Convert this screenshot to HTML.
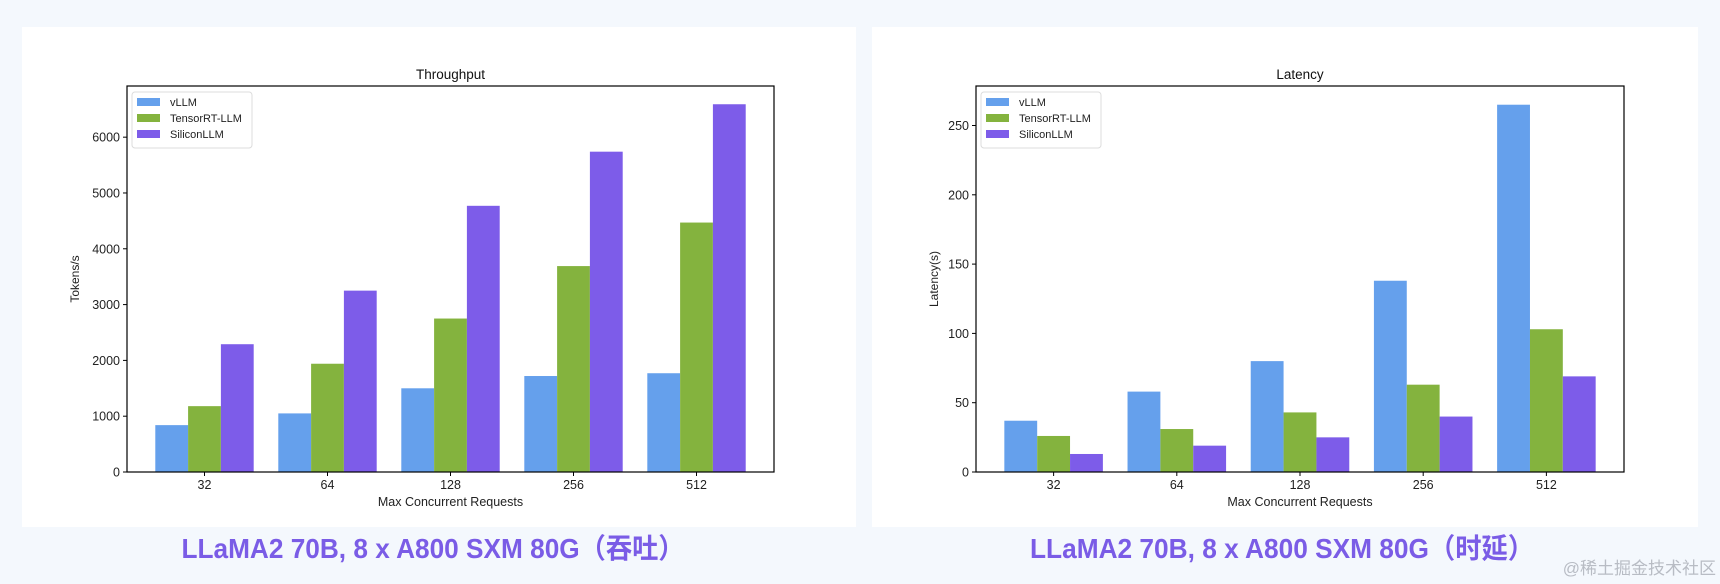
<!DOCTYPE html>
<html><head><meta charset="utf-8"><style>
html,body{margin:0;padding:0;background:#f4f8fd;}
svg{display:block;font-family:"Liberation Sans","DejaVu Sans",sans-serif;}
</style></head><body>
<svg id="root" width="1720" height="584" viewBox="0 0 1720 584" xmlns="http://www.w3.org/2000/svg">
<rect x="0" y="0" width="1720" height="584" fill="#f4f8fd"/>
<rect x="22" y="27" width="834" height="500" fill="#ffffff"/>
<rect x="872" y="27" width="826" height="500" fill="#ffffff"/>
<g id="left"></g>
<g id="right"></g>
<text x="433" y="558" text-anchor="middle" font-size="28" font-weight="bold" fill="#7a5ce6" textLength="503" lengthAdjust="spacingAndGlyphs" style="font-family:'Liberation Sans','Noto Sans CJK SC',sans-serif">LLaMA2 70B, 8 x A800 SXM 80G（吞吐）</text>
<text x="1282" y="558" text-anchor="middle" font-size="28" font-weight="bold" fill="#7a5ce6" textLength="504" lengthAdjust="spacingAndGlyphs" style="font-family:'Liberation Sans','Noto Sans CJK SC',sans-serif">LLaMA2 70B, 8 x A800 SXM 80G（时延）</text>
<text x="1716" y="574" text-anchor="end" font-size="17" fill="#b8bcc4" style="font-family:'Liberation Sans','Noto Sans CJK SC',sans-serif">@稀土掘金技术社区</text>
</svg>
<script>
const categories = ["32","64","128","256","512"];
const seriesNames = ["vLLM","TensorRT-LLM","SiliconLLM"];
const throughputVllm = [840,1050,1500,1720,1770];
const throughputTrt = [1180,1940,2750,3690,4470];
const throughputSilicon = [2290,3250,4770,5740,6590];
const throughputTicks = [0,1000,2000,3000,4000,5000,6000];
const latencyVllm = [37,58,80,138,265];
const latencyTrt = [26,31,43,63,103];
const latencySilicon = [13,19,25,40,69];
const latencyTicks = [0,50,100,150,200,250];
const colors = ["#65a0ec","#84b33e","#7d5ce9"];
const NS="http://www.w3.org/2000/svg";
function mk(tag,attrs,parent){const e=document.createElementNS(NS,tag);for(const k in attrs)e.setAttribute(k,attrs[k]);parent.appendChild(e);return e;}
function drawChart(g,cfg){
  const x0=cfg.x0,x1=cfg.x1,yTop=86,yBot=472;
  const n=categories.length, lo=-0.63, hi=n-1+0.63;
  const sx=v=>x0+(v-lo)/(hi-lo)*(x1-x0);
  const sy=v=>yBot-(v/cfg.ymax)*(yBot-yTop);
  const series=cfg.series;
  const bw=0.8/3;
  series.forEach((vals,si)=>{
    vals.forEach((v,ci)=>{
      const cx=ci+(si-1)*bw;
      const r=mk('rect',{x:sx(cx-bw/2),y:sy(v),width:sx(cx+bw/2)-sx(cx-bw/2),height:sy(0)-sy(v),fill:colors[si]},g);
      
      
    });
  });
  const frame=mk('rect',{x:x0,y:yTop,width:x1-x0,height:yBot-yTop,fill:'none',stroke:'#000','stroke-width':1.2},g);
  
  
  cfg.ticks.forEach(t=>{
    const y=sy(t);
    const tl=mk('line',{x1:x0-4,x2:x0,y1:y,y2:y,stroke:'#000'},g);
    
    
    const tx=mk('text',{x:x0-7,y:y+4.5,'text-anchor':'end','font-size':12.5,fill:'#222'},g);
    tx.textContent=t;
    
    
  });
  categories.forEach((c,ci)=>{
    const x=sx(ci);
    const tl=mk('line',{x1:x,x2:x,y1:yBot,y2:yBot+4,stroke:'#000'},g);
    
    
    const tx=mk('text',{x:x,y:489,'text-anchor':'middle','font-size':12.5,fill:'#222'},g);
    tx.textContent=c;
    
    
  });
  const title=mk('text',{x:(x0+x1)/2,y:79,'text-anchor':'middle','font-size':13.5,fill:'#111'},g);
  title.textContent=cfg.title;
  
  
  const xl=mk('text',{x:(x0+x1)/2,y:506,'text-anchor':'middle','font-size':12.5,fill:'#222'},g);
  xl.textContent='Max Concurrent Requests';
  
  
  const yl=mk('text',{x:0,y:0,'text-anchor':'middle','font-size':12,fill:'#222',transform:'translate('+cfg.ylx+',279) rotate(-90)'},g);
  yl.textContent=cfg.ylabel;
  
  
  const lx=x0+5;
  const lb=mk('rect',{x:lx,y:92,width:120,height:56,rx:3,fill:'#fff',stroke:'#dcdcdc'},g);
  
  
  seriesNames.forEach((s,si)=>{
    const y=102+si*16;
    const p=mk('rect',{x:lx+5,y:y-4,width:23,height:8,fill:colors[si]},g);
    
    
    const t=mk('text',{x:lx+38,y:y+4,'font-size':11,fill:'#222'},g);
    t.textContent=s;
    
    
  });
}
drawChart(document.getElementById('left'),{id:'throughput',x0:127,x1:774,ymax:6917,ticks:throughputTicks,series:[throughputVllm,throughputTrt,throughputSilicon],title:'Throughput',ylabel:'Tokens/s',ylx:79});
drawChart(document.getElementById('right'),{id:'latency',x0:976,x1:1624,ymax:278.5,ticks:latencyTicks,series:[latencyVllm,latencyTrt,latencySilicon],title:'Latency',ylabel:'Latency(s)',ylx:938});
</script>
</body></html>
